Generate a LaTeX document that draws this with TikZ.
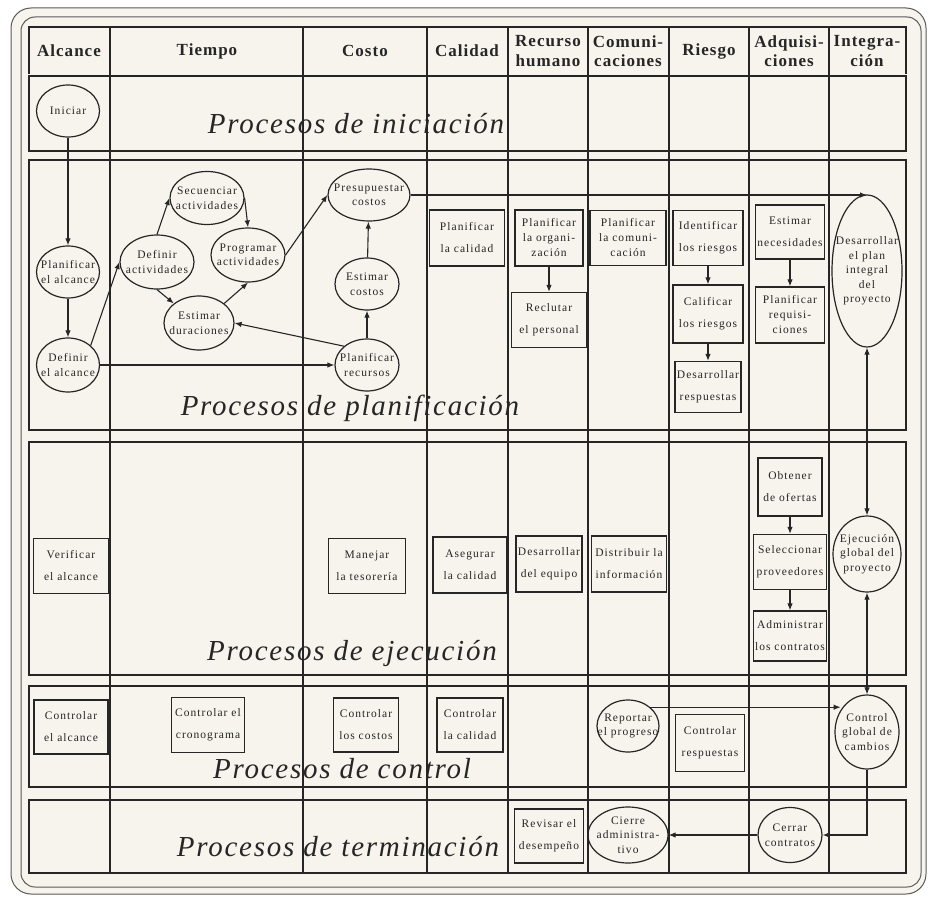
\documentclass[tikz,border=0pt]{standalone}
\usepackage{fontspec}
\setmainfont{Liberation Serif}
\newfontfamily\smfont[LetterSpace=9]{Liberation Serif}
\newfontfamily\hdrfont[LetterSpace=6]{Liberation Serif}
\newfontfamily\bigfont[LetterSpace=6]{Liberation Serif}
\usetikzlibrary{shapes.geometric,arrows.meta}
\definecolor{ink}{RGB}{38,38,38}
\definecolor{paper}{RGB}{246,244,237}
\definecolor{rim}{RGB}{90,90,90}
\tikzset{
  band/.style={draw=ink, line width=1.1pt},
  colline/.style={draw=ink, line width=1.1pt},
  pbox/.style={rectangle, draw=ink, line width=1.2pt, inner sep=0pt, align=center,
    text=ink, font=\smfont\fontsize{11.5}{22}\selectfont},
  pbox3/.style={pbox, font=\smfont\fontsize{11.5}{15}\selectfont},
  pell/.style={ellipse, draw=ink, line width=1.2pt, inner sep=-10pt, align=center,
    text=ink, font=\smfont\fontsize{11.5}{14.5}\selectfont},
  flow/.style={draw=ink, line width=1.1pt, -{Latex[length=7pt,width=5.5pt]}},
  flow2/.style={draw=ink, line width=1.1pt, {Latex[length=7pt,width=5.5pt]}-{Latex[length=7pt,width=5.5pt]}},
  hdr/.style={font=\hdrfont\bfseries\fontsize{17}{19.5}\selectfont, align=center, text=ink, inner sep=0pt},
  phase/.style={font=\bigfont\itshape\fontsize{29}{31}\selectfont, anchor=base, text=ink, inner sep=0pt},
}
\begin{document}
\begin{tikzpicture}[x=1pt,y=-1pt]
\useasboundingbox (0,0) rectangle (929,899);
\fill[white] (0,0) rectangle (929,899);

% double rounded frame
\draw[rim, line width=1pt, fill=paper, rounded corners=20pt] (11,8) rectangle (926,894);
\draw[rim, line width=1pt, rounded corners=14pt] (21,17) rectangle (921,887);

% header row and process bands
\draw[band] (29,74) -- (29,27) -- (906,27) -- (906,74);
\draw[band] (29,76) rectangle (906,151);
\draw[band] (29,160) rectangle (906,430);
\draw[band] (29,442) rectangle (906,675);
\draw[band] (29,686) rectangle (906,787);
\draw[band] (29,800) rectangle (906,873);

% knowledge-area columns
\foreach \cx in {110,303,427,508,588,669,749,829}
  \draw[colline] (\cx,27) -- (\cx,873);

% column headings
\node[hdr] (hA) at (69,51) {Alcance};
\node[hdr] (hT) at (207,51) {Tiempo};
\node[hdr] (hC) at (365,51) {Costo};
\node[hdr] (hQ) at (467,51) {Calidad};
\node[hdr] (hR) at (548,51) {Recurso\\humano};
\node[hdr] (hM) at (628,51) {Comuni-\\caciones};
\node[hdr] (hG) at (709,51) {Riesgo};
\node[hdr] (hD) at (789,51) {Adquisi-\\ciones};
\node[hdr] (hI) at (867,51) {Integra-\\ción};

% phase titles
\node[phase] (t1) at (356,133) {Procesos de iniciación};
\node[phase] (t2) at (350,415) {Procesos de planificación};
\node[phase] (t3) at (352,660) {Procesos de ejecución};
\node[phase] (t4) at (342,778) {Procesos de control};
\node[phase] (t5) at (338,856) {Procesos de terminación};

% initiation
\node[pell, minimum width=63pt, minimum height=52pt] (ini) at (68,111) {Iniciar};

% planning: scope, time, cost
\node[pell, minimum width=63pt, minimum height=52pt] (pal) at (68,272) {Planificar\\el alcance};
\node[pell, minimum width=63pt, minimum height=54pt] (dal) at (68,365) {Definir\\el alcance};
\node[pell, minimum width=74pt, minimum height=54pt] (dac) at (157,262) {Definir\\actividades};
\node[pell, minimum width=74pt, minimum height=53pt] (sec) at (207,198) {Secuenciar\\actividades};
\node[pell, minimum width=74pt, minimum height=54pt] (pro) at (248,255) {Programar\\actividades};
\node[pell, minimum width=70pt, minimum height=54pt] (edu) at (199,323) {Estimar\\duraciones};
\node[pell, minimum width=82pt, minimum height=52pt] (pc) at (369,195) {Presupuestar\\costos};
\node[pell, minimum width=64pt, minimum height=52pt] (ec) at (367,284) {Estimar\\costos};
\node[pell, minimum width=64pt, minimum height=52pt] (pr) at (367,365) {Planificar\\recursos};

% planning: quality, people, communication, risk, procurement, integration
\node[pbox, minimum width=75pt, minimum height=56pt] (pca) at (467,238) {Planificar\\la calidad};
\node[pbox3, minimum width=68pt, minimum height=56pt] (por) at (549,238) {Planificar\\la organi-\\zación};
\node[pbox, minimum width=75pt, minimum height=55pt] (rec) at (549,320) {Reclutar\\el personal};
\node[pbox3, minimum width=76pt, minimum height=55pt] (pcom) at (628,238) {Planificar\\la comuni-\\cación};
\node[pbox, minimum width=70pt, minimum height=55pt] (ide) at (708,238) {Identificar\\los riesgos};
\node[pbox, minimum width=70pt, minimum height=58pt] (cal) at (708,314) {Calificar\\los riesgos};
\node[pbox, minimum width=66pt, minimum height=51pt] (dre) at (708,387) {Desarrollar\\respuestas};
\node[pbox, minimum width=69pt, minimum height=54pt] (enc) at (790,232) {Estimar\\necesidades};
\node[pbox3, minimum width=69pt, minimum height=56pt] (preq) at (790,315) {Planificar\\requisi-\\ciones};
\node[pell, minimum width=70pt, minimum height=152pt] (dp) at (867,271) {Desarrollar\\el plan\\integral\\del\\proyecto};

% execution
\node[pbox, minimum width=75pt, minimum height=55pt] (ver) at (71,566) {Verificar\\el alcance};
\node[pbox, minimum width=77pt, minimum height=55pt] (man) at (367,566) {Manejar\\la tesorería};
\node[pbox, minimum width=74pt, minimum height=56pt] (ase) at (470,565) {Asegurar\\la calidad};
\node[pbox, minimum width=66pt, minimum height=56pt] (deq) at (549,564) {Desarrollar\\del equipo};
\node[pbox, minimum width=75pt, minimum height=56pt] (dis) at (629,564) {Distribuir la\\información};
\node[pbox, minimum width=64pt, minimum height=58pt] (obt) at (790,487) {Obtener\\de ofertas};
\node[pbox, minimum width=73pt, minimum height=55pt] (sel) at (790,562) {Seleccionar\\proveedores};
\node[pbox, minimum width=73pt, minimum height=50pt] (adm) at (790,636) {Administrar\\los contratos};
\node[pell, minimum width=68pt, minimum height=76pt] (ejg) at (867,554) {Ejecución\\global del\\proyecto};

% control
\node[pbox, minimum width=74pt, minimum height=54pt] (cal2) at (71,727) {Controlar\\el alcance};
\node[pbox, minimum width=73pt, minimum height=55pt] (ccr) at (208,725) {Controlar el\\cronograma};
\node[pbox, minimum width=65pt, minimum height=54pt] (cco) at (366,725) {Controlar\\los costos};
\node[pbox, minimum width=66pt, minimum height=54pt] (ccal) at (470,725) {Controlar\\la calidad};
\node[pell, minimum width=62pt, minimum height=52pt] (rep) at (628,726) {Reportar\\el progreso};
\node[pbox, minimum width=69pt, minimum height=57pt] (cres) at (710,743) {Controlar\\respuestas};
\node[pell, minimum width=64pt, minimum height=74pt] (cgc) at (867,732) {Control\\global de\\cambios};

% closing
\node[pbox, minimum width=69pt, minimum height=54pt] (rev) at (549,836) {Revisar el\\desempeño};
\node[pell, minimum width=80pt, minimum height=56pt] (cie) at (628,835) {Cierre\\administra-\\tivo};
\node[pell, minimum width=64pt, minimum height=55pt] (cer) at (790,835) {Cerrar\\contratos};

% connectors
\draw[flow] (ini) -- (pal);
\draw[flow] (pal) -- (dal);
\draw[flow] (dal.north east) -- (dac.west);
\draw[flow] (dac.north) -- (sec.west);
\draw[flow] (dac.south) -- (edu.north west);
\draw[flow] (sec.east) -- (pro.north);
\draw[flow] (edu.north east) -- (pro.south);
\draw[flow] (pro.east) -- (pc.west);
\draw[flow] (ec) -- (pc);
\draw[flow] (pr) -- (ec);
\draw[flow] (pr.north west) -- (edu.east);
\draw[flow] (dal.east) -- (pr.west);
\draw[flow] (pc.east) -- (pc.east -| dp.north);
\draw[flow] (por) -- (rec);
\draw[flow] (ide) -- (cal);
\draw[flow] (cal) -- (dre);
\draw[flow] (enc) -- (preq);
\draw[flow2] (dp) -- (ejg);
\draw[flow] (obt) -- (sel);
\draw[flow] (sel) -- (adm);
\draw[flow2] (ejg) -- (cgc);
\draw[flow] (rep.north east) -- (rep.north east -| cgc.140);
\draw[flow] (cgc.south) |- (cer.east);
\draw[flow] (cer) -- (cie);
\end{tikzpicture}
\end{document}
